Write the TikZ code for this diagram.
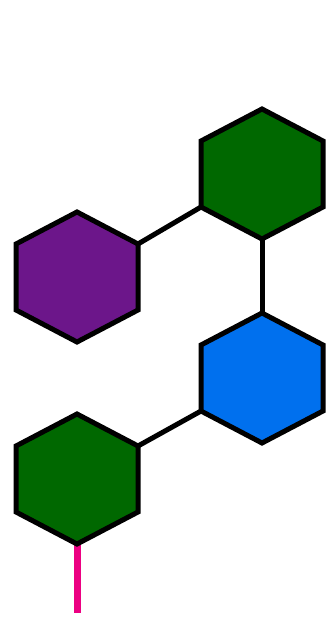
\documentclass[tikz,border=0pt]{standalone}
\usetikzlibrary{calc}
\definecolor{hexgreen}{RGB}{0,104,0}
\definecolor{hexpurple}{RGB}{108,22,138}
\definecolor{hexblue}{RGB}{0,112,238}
\definecolor{stempink}{RGB}{236,0,130}
\tikzset{
  hexa/.style={draw=black, line width=5pt, line join=miter},
  bond/.style={draw=black, line width=5pt},
  stem/.style={draw=stempink, line width=7pt}
}
\newcommand{\hexcorners}[2]{% name, center
  \coordinate (#1) at (#2);
  \coordinate (#1-t)  at ($(#1)+(0,-65)$);
  \coordinate (#1-ur) at ($(#1)+(61,-33)$);
  \coordinate (#1-lr) at ($(#1)+(61,33)$);
  \coordinate (#1-b)  at ($(#1)+(0,65)$);
  \coordinate (#1-ll) at ($(#1)+(-61,33)$);
  \coordinate (#1-ul) at ($(#1)+(-61,-33)$);
}
\newcommand{\hexfill}[2]{% name, fill
  \path[hexa, fill=#2] (#1-t) -- (#1-ur) -- (#1-lr) -- (#1-b) -- (#1-ll) -- (#1-ul) -- cycle;
}
\begin{document}
\begin{tikzpicture}[x=1pt,y=-1pt]
\useasboundingbox (0,0) rectangle (331,617);
\hexcorners{G1}{262,174}
\hexcorners{P}{77,277}
\hexcorners{B}{262,378}
\hexcorners{G2}{77,479}
\coordinate (end) at (77,613);
% connectors
\draw[bond] (P-ur) -- (G1-ll);
\draw[bond] (G1-b) -- (B-t);
\draw[bond] (G2-ur) -- (B-ll);
\draw[stem] (G2-b) -- (end);
% hexagons
\hexfill{G1}{hexgreen}
\hexfill{P}{hexpurple}
\hexfill{B}{hexblue}
\hexfill{G2}{hexgreen}
\end{tikzpicture}
\end{document}
